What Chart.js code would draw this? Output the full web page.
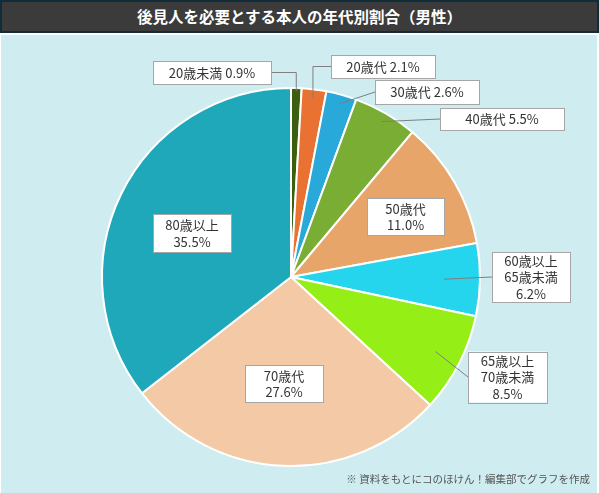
<!DOCTYPE html>
<html>
<head>
<meta charset="utf-8">
<script src="https://cdn.jsdelivr.net/npm/chart.js@4.4.1/dist/chart.umd.min.js"></script>
<style>
  html,body{margin:0;padding:0;background:#ffffff;width:599px;height:493px;overflow:hidden;font-family:"Noto Sans CJK JP","Noto Sans",sans-serif;}
  #titlebar{position:absolute;left:0;top:0;width:595px;height:29px;background:#3b3b3b;border:2px solid #0f2c38;color:#ffffff;font-weight:bold;font-size:15.5px;line-height:29px;text-align:center;}
  #panel{position:absolute;left:1px;top:35px;width:596px;height:458px;background:#cfecf0;}
  #note{position:absolute;right:9px;top:471px;font-size:10.5px;color:#555555;white-space:nowrap;}
  #c{position:absolute;left:0;top:0;}
</style>
</head>
<body>
<div id="titlebar">後見人を必要とする本人の年代別割合（男性）</div>
<div id="panel"></div>
<canvas id="c" width="599" height="493"></canvas>
<div id="note">※ 資料をもとにコのほけん！編集部でグラフを作成</div>
<script>
// ---- data ----
const categories = ['20歳未満', '20歳代', '30歳代', '40歳代', '50歳代', ['60歳以上', '65歳未満'], ['65歳以上', '70歳未満'], '70歳代', '80歳以上'];
const percentages = [0.9, 2.1, 2.6, 5.5, 11.0, 6.2, 8.5, 27.6, 35.5];
const sliceColors = ['#3b5e0f', '#e97132', '#28a9d9', '#7aad33', '#e8a56a', '#25d5ee', '#95ef16', '#f3caa5', '#1fa8b9'];

// ---- label layout (box offsets from pie centre, px) ----
const labelLayout = [
  {dx: -79, dy: -204.5, w: 118, h: 23, inline: true, leader: 'elbowRight', f: 0.985},
  {dx: 92, dy: -210.5, w: 104, h: 23, inline: true, leader: 'elbowLeft', f: 0.95},
  {dx: 136, dy: -185, w: 104, h: 24, inline: true, leader: 'line', f: 0.95},
  {dx: 211, dy: -158, w: 124, h: 22, inline: true, leader: 'line', f: 0.95},
  {dx: 114.5, dy: -60.5, w: 77, h: 37, inline: false, leader: null},
  {dx: 240, dy: 0, w: 78, h: 50, inline: false, leader: 'line', f: 0.81},
  {dx: 216.5, dy: 100, w: 79, h: 51, inline: false, leader: 'line', f: 0.86},
  {dx: -7, dy: 106.5, w: 78, h: 37, inline: false, leader: null},
  {dx: -99, dy: -44, w: 78, h: 38, inline: false, leader: null}
];

const labelPlugin = {
  id: 'boxLabels',
  afterDatasetsDraw(chart) {
    const ctx = chart.ctx;
    const meta = chart.getDatasetMeta(0);
    const ds = chart.data.datasets[0];
    ctx.save();
    meta.data.forEach((arc, i) => {
      const L = labelLayout[i];
      const cx = arc.x, cy = arc.y, R = arc.outerRadius;
      const mid = (arc.startAngle + arc.endAngle) / 2;
      const bx = cx + L.dx, by = cy + L.dy;
      const left = bx - L.w / 2, top = by - L.h / 2;
      // leader
      if (L.leader) {
        const ax = cx + Math.cos(mid) * R * L.f;
        const ay = cy + Math.sin(mid) * R * L.f;
        ctx.strokeStyle = '#7f7f7f';
        ctx.lineWidth = 1;
        ctx.beginPath();
        if (L.leader === 'elbowRight') {
          ctx.moveTo(left + L.w, by);
          ctx.lineTo(ax, by);
          ctx.lineTo(ax, ay);
        } else if (L.leader === 'elbowLeft') {
          ctx.moveTo(left, by);
          ctx.lineTo(ax, by);
          ctx.lineTo(ax, ay);
        } else {
          ctx.moveTo(left, by);
          ctx.lineTo(ax, ay);
        }
        ctx.stroke();
      }
      // box
      ctx.fillStyle = '#ffffff';
      ctx.fillRect(left, top, L.w, L.h);
      ctx.strokeStyle = '#a6a6a6';
      ctx.lineWidth = 1;
      ctx.strokeRect(Math.round(left) + 0.5, Math.round(top) + 0.5, Math.round(L.w), Math.round(L.h));
      // text
      const cat = chart.data.labels[i];
      const catLines = Array.isArray(cat) ? cat : [cat];
      const val = ds.data[i].toFixed(1) + '%';
      let lines;
      if (L.inline) lines = [catLines.join('') + ' ' + val];
      else lines = catLines.concat([val]);
      ctx.fillStyle = '#333333';
      ctx.font = '13px "Noto Sans CJK JP", "Noto Sans", sans-serif';
      ctx.textAlign = 'center';
      ctx.textBaseline = 'middle';
      const lh = 16.5;
      const y0 = by - (lines.length - 1) * lh / 2;
      lines.forEach((t, k) => ctx.fillText(t, bx, y0 + k * lh + 0.5));
    });
    ctx.restore();
  }
};

new Chart(document.getElementById('c'), {
  type: 'pie',
  data: {
    labels: categories,
    datasets: [{
      data: percentages,
      backgroundColor: sliceColors,
      borderColor: '#ffffff',
      borderWidth: 2
    }]
  },
  options: {
    responsive: false,
    animation: false,
    layout: {padding: {left: 101, right: 118, top: 87, bottom: 26}},
    plugins: {legend: {display: false}, tooltip: {enabled: false}, title: {display: false}}
  },
  plugins: [labelPlugin]
});
</script>
</body>
</html>
